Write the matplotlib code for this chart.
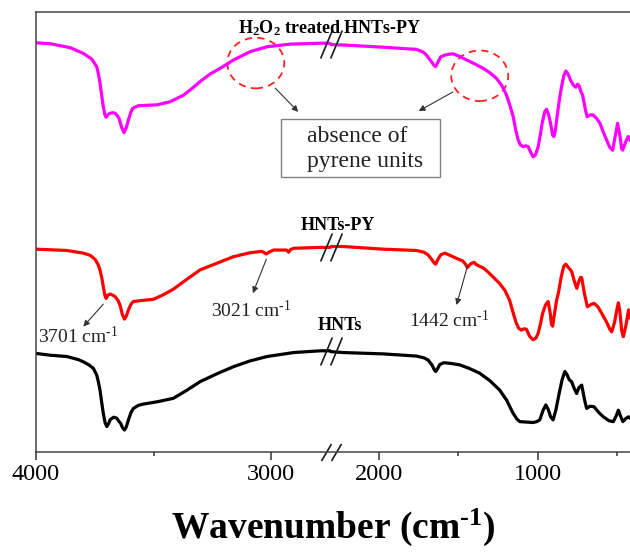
import numpy as np
import matplotlib.pyplot as plt
from matplotlib.patches import Ellipse, Rectangle
from matplotlib.path import Path

plt.rcParams['font.family'] = 'Liberation Serif'
plt.rcParams['mathtext.fontset'] = 'custom'
plt.rcParams['mathtext.rm'] = 'Liberation Serif'
plt.rcParams['mathtext.it'] = 'Liberation Serif:italic'
plt.rcParams['mathtext.bf'] = 'Liberation Serif:bold'

# FTIR spectra, stacked transmittance (a.u.)
hnts_wn = [4000, 3940, 3869, 3820, 3799, 3775, 3756, 3742, 3735, 3728, 3720, 3714,
           3706, 3699, 3692, 3684, 3670, 3657, 3648, 3640, 3632, 3624, 3617, 3607,
           3596, 3586, 3565, 3543, 3486, 3416, 3360, 3302, 3230, 3160, 3090, 3018,
           2905, 2791, 2750,
           2300, 2222, 1973, 1762, 1715, 1689, 1665, 1650, 1641, 1630, 1615, 1590,
           1540, 1490, 1430, 1364, 1300, 1239, 1195, 1154, 1130, 1112, 1070, 1028,
           1005, 986, 965, 948, 932, 918, 902, 885, 864, 845, 828, 815, 800, 786,
           770, 754, 740, 722, 705, 691, 670, 645, 615, 586, 550, 523, 505, 491,
           478, 463, 445, 428, 418]
hnts_t = [22.4, 22.0, 21.7, 21.0, 20.5, 19.8, 19.0, 17.5, 16.0, 14.1, 11.0, 8.8,
          6.6, 5.8, 6.4, 7.4, 7.9, 7.7, 7.0, 6.5, 5.5, 5.0, 5.6, 7.3,
          9.0, 9.9, 10.6, 10.9, 11.4, 12.2, 14.0, 16.0, 17.8, 19.4, 20.7, 21.7,
          22.6, 23.0, 23.0,
          22.8, 22.6, 22.3, 21.8, 21.4, 20.9, 19.8, 18.7, 18.3, 18.9, 19.9, 20.3,
          20.1, 19.8, 19.0, 17.9, 16.2, 14.1, 11.8, 8.8, 7.5, 6.9, 6.8, 6.7,
          6.9, 7.3, 9.5, 10.7, 9.6, 8.0, 7.3, 9.5, 13.3, 16.5, 18.3, 17.6, 16.4, 16.0,
          14.5, 13.3, 14.6, 15.2, 12.0, 9.9, 10.4, 10.3, 9.0, 8.0, 7.1, 6.9, 8.2, 9.5,
          8.2, 6.9, 7.6, 8.0, 7.7]

py_wn = [4000, 3869, 3799, 3770, 3749, 3736, 3728, 3720, 3714, 3707, 3702, 3695,
         3685, 3672, 3664, 3652, 3643, 3633, 3624, 3616, 3607, 3596, 3586, 3557,
         3501, 3460, 3416, 3360, 3302, 3231, 3160, 3089, 3040, 3030, 3021, 3010,
         2990, 2935, 2926, 2918, 2905, 2791, 2750,
         2300, 2222, 1973, 1762, 1715, 1689, 1665, 1650, 1641, 1630, 1610, 1584,
         1545, 1510, 1470, 1452, 1442, 1432, 1420, 1400, 1385, 1370, 1340, 1315,
         1280, 1239, 1205, 1176, 1155, 1134, 1118, 1102, 1085, 1070, 1050, 1028,
         1010, 996, 980, 968, 950, 940, 933, 920, 912, 905, 895, 880, 869, 850,
         835, 822, 810, 795, 785, 770, 753, 740, 729, 722, 705, 686, 665, 644,
         620, 596, 565, 545, 533, 515, 500, 491, 482, 470, 460, 445, 427, 418]
py_t = [46.1, 45.8, 45.2, 44.7, 43.8, 42.6, 41.4, 39.5, 37.6, 35.6, 34.9, 35.6,
        35.9, 35.6, 35.3, 34.5, 33.4, 31.3, 30.2, 30.9, 32.3, 33.6, 34.2, 34.4,
        34.7, 35.7, 37.0, 39.2, 41.4, 42.9, 44.4, 45.3, 45.6, 45.3, 45.0, 45.4,
        45.9, 45.9, 45.4, 46.0, 46.3, 46.5, 46.5,
        46.7, 46.7, 46.1, 45.8, 45.4, 44.8, 43.7, 42.9, 42.7, 43.6, 44.8, 45.2,
        44.6, 44.0, 43.4, 42.6, 41.9, 42.3, 42.8, 43.1, 42.6, 42.3, 41.8, 41.0,
        39.8, 38.3, 36.7, 34.5, 31.8, 29.3, 28.1, 27.7, 28.0, 27.9, 26.3, 25.5,
        25.9, 27.0, 29.4, 31.5, 33.4, 33.9, 34.2, 31.5, 29.0, 28.6, 31.0, 34.5, 36.1, 40.0,
        42.2, 42.7, 42.1, 41.5, 41.0, 39.0, 37.2, 38.8, 39.7, 39.6, 36.0, 33.0, 33.5, 33.8,
        33.0, 31.5, 29.5, 27.9, 27.3, 29.5, 32.5, 33.9, 32.0, 27.5, 26.2, 28.5, 32.3, 30.5]

h2o2_wn = [4000, 3940, 3855, 3799, 3763, 3742, 3735, 3728, 3720, 3714, 3707, 3702,
           3694, 3685, 3672, 3664, 3655, 3647, 3636, 3626, 3617, 3607, 3597, 3589,
           3565, 3486, 3430, 3373, 3335, 3302, 3260, 3217, 3160, 3089, 3018, 2919,
           2791, 2750,
           2300, 2222, 1973, 1762, 1720, 1699, 1670, 1650, 1641, 1630, 1610, 1584,
           1560, 1532, 1490, 1447, 1400, 1343, 1300, 1258, 1225, 1195, 1175, 1153,
           1138, 1122, 1108, 1090, 1075, 1059, 1043, 1028, 1012, 996, 983, 971,
           955, 943, 930, 918, 905, 897, 887, 877, 862, 849, 835, 822, 808, 792,
           775, 759, 748, 738, 728, 716, 700, 688, 670, 650, 628, 607, 585, 565,
           545, 527, 510, 496, 482, 470, 464, 445, 429, 418]
h2o2_t = [93.0, 92.8, 91.9, 90.6, 89.3, 87.6, 86.0, 83.9, 80.8, 78.5, 76.6, 76.1,
          76.7, 77.0, 77.1, 77.0, 76.5, 75.8, 73.8, 72.6, 73.6, 75.5, 77.2, 78.1,
          78.7, 78.9, 79.6, 81.1, 82.7, 84.2, 85.9, 87.2, 89.1, 91.0, 92.1, 92.7,
          92.9, 92.9,
          92.6, 92.5, 92.0, 91.5, 90.9, 90.2, 88.8, 87.8, 87.6, 88.4, 89.8, 90.2,
          90.4, 90.5, 89.9, 89.1, 88.3, 87.2, 86.2, 84.9, 83.3, 81.1, 78.9, 76.2,
          73.3, 70.9, 69.8, 69.4, 69.6, 69.4, 68.1, 67.1, 67.6, 69.4, 72.0, 74.7,
          77.3, 77.9, 76.6, 74.7, 72.0, 71.7, 73.3, 76.2, 80.2, 83.0, 85.5, 86.6, 85.9, 84.5,
          83.4, 82.9, 83.6, 83.2, 82.0, 81.1, 78.0, 76.2, 76.6, 76.6, 75.8, 74.7, 72.6, 70.9,
          69.2, 68.6, 72.0, 74.7, 72.0, 68.9, 68.6, 70.5, 71.7, 70.9]

major_ticks = [4000, 3000, 2000, 1000]
minor_ticks = [3500, 1500, 500]

# broken axis: 2750-2300 cm-1 is cut out, the low range is compressed
BREAK_HI, BREAK_LO = 2750, 2300
W_NODES = [-1000, BREAK_LO, BREAK_HI, 5000]
U_NODES = [-158.7, 0.1587 * BREAK_LO, 0.1587 * BREAK_LO + 1.0,
           0.1587 * BREAK_LO + 1.0 + 0.235 * (5000 - BREAK_HI)]


def fwd(w):
    return np.interp(w, W_NODES, U_NODES)


def inv(u):
    return np.interp(u, U_NODES, W_NODES)


def slash_marker(w_px, h_px, gap_px):
    # two parallel slashes, returned as a path plus marker size in points
    hw, hh, g = w_px / 2, h_px / 2, gap_px / 2
    verts = [(-g - hw, -hh), (-g + hw, hh), (g - hw, -hh), (g + hw, hh)]
    codes = [Path.MOVETO, Path.LINETO, Path.MOVETO, Path.LINETO]
    size = 2 * max(abs(v) for p in verts for v in p) * 72 / 100
    return Path(verts, codes), size


fig = plt.figure(figsize=(6.3, 5.52), dpi=100)
ax = fig.add_axes([36 / 630, 100 / 552, 594 / 630, 440 / 552])
ax.set_xscale('function', functions=(fwd, inv))

curves = [(hnts_wn, hnts_t, 'black'),
          (py_wn, py_t, '#ff0000'),
          (h2o2_wn, h2o2_t, '#ff00ff')]
mark, ms = slash_marker(11.7, 28, 10)
w_mid = (BREAK_HI + BREAK_LO) / 2
for wn, t, c in curves:
    ax.plot(wn, t, color=c, lw=2.3, solid_joinstyle='round')
    y_brk = np.interp(w_mid, wn[::-1], t[::-1])
    ax.plot([w_mid], [y_brk], marker=mark, ms=ms, mec='#1a1a1a', mfc='none',
            mew=1.2, ls='none')

ax.set_xlim(4000, 418)
ax.set_ylim(0, 100)
ax.set_xticks(major_ticks)
ax.set_xticklabels([str(v) for v in major_ticks])
ax.set_xticks(minor_ticks, minor=True)
ax.set_yticks([])
ax.tick_params(axis='x', which='major', direction='out', length=5.5, width=1.1,
               labelsize=17.5, pad=3, colors='#333333', labelcolor='black')
ax.tick_params(axis='x', which='minor', direction='out', length=3, width=1.1,
               colors='#333333')
for side in ['left', 'top', 'bottom']:
    ax.spines[side].set_color('#444444')
    ax.spines[side].set_linewidth(1.1)
ax.spines['right'].set_visible(False)

# axis break on the bottom spine
amark, ams = slash_marker(10, 17, 10)
ax.plot([w_mid], [0], marker=amark, ms=ams, mec='#1a1a1a', mfc='none', mew=1.2,
        ls='none', clip_on=False)

ax.set_xlabel('Wavenumber (cm$^{\\mathbf{\u2010}\\mathbf{1}}$)', fontsize=27,
              fontweight='bold', labelpad=16)

# sample labels
ax.text(0.495, 0.952, r'$\mathbf{H_2O_2}$ treated HNTs-PY', transform=ax.transAxes,
        ha='center', va='baseline', fontsize=13, fontweight='bold')
ax.text(0.508, 0.5045, 'HNTs-PY', transform=ax.transAxes, ha='center',
        va='baseline', fontsize=13, fontweight='bold')
ax.text(0.512, 0.277, 'HNTs', transform=ax.transAxes, ha='center',
        va='baseline', fontsize=13, fontweight='bold')

# band assignments on the HNTs-PY spectrum
arrow = dict(arrowstyle='-|>', color='#333333', lw=0.8, mutation_scale=9,
             shrinkA=0, shrinkB=0)
bands = [(3701, 3714, 33.6, 3799, 28.5, 3821, 24.8),
         (3021, 3021, 43.8, 3078, 36.1, 3087, 30.7),
         (1442, 1440, 42.4, 1510, 33.4, 1553, 28.3)]
for band, wt, yt, wh, yh, wl, yl in bands:
    ax.annotate('', xy=(wh, yh), xytext=(wt, yt), arrowprops=arrow)
    ax.text(wl, yl, '%d cm$^{\u20101}$' % band, ha='center', va='baseline',
            fontsize=14, color='#222222')

# regions where the pyrene bands have vanished
for cx, cy in [(0.370, 0.884), (0.747, 0.855)]:
    ax.add_patch(Ellipse((cx, cy), 0.096, 0.115, transform=ax.transAxes,
                         fill=False, ec='#ff2020', lw=1.3, ls=(0, (4, 3))))
ax.annotate('', xy=(2885, 77.3), xytext=(2983, 82.7), arrowprops=arrow)
ax.annotate('', xy=(1748, 77.5), xytext=(1534, 81.8), arrowprops=arrow)
ax.add_patch(Rectangle((0.412, 0.625), 0.268, 0.132, transform=ax.transAxes,
                       fill=False, ec='#808080', lw=1.0))
ax.text(0.4554, 0.705, 'absence of', transform=ax.transAxes, ha='left',
        va='baseline', fontsize=17, color='#222222')
ax.text(0.4554, 0.648, 'pyrene units', transform=ax.transAxes, ha='left',
        va='baseline', fontsize=17, color='#222222')

fig.savefig('out.png', dpi=100)
